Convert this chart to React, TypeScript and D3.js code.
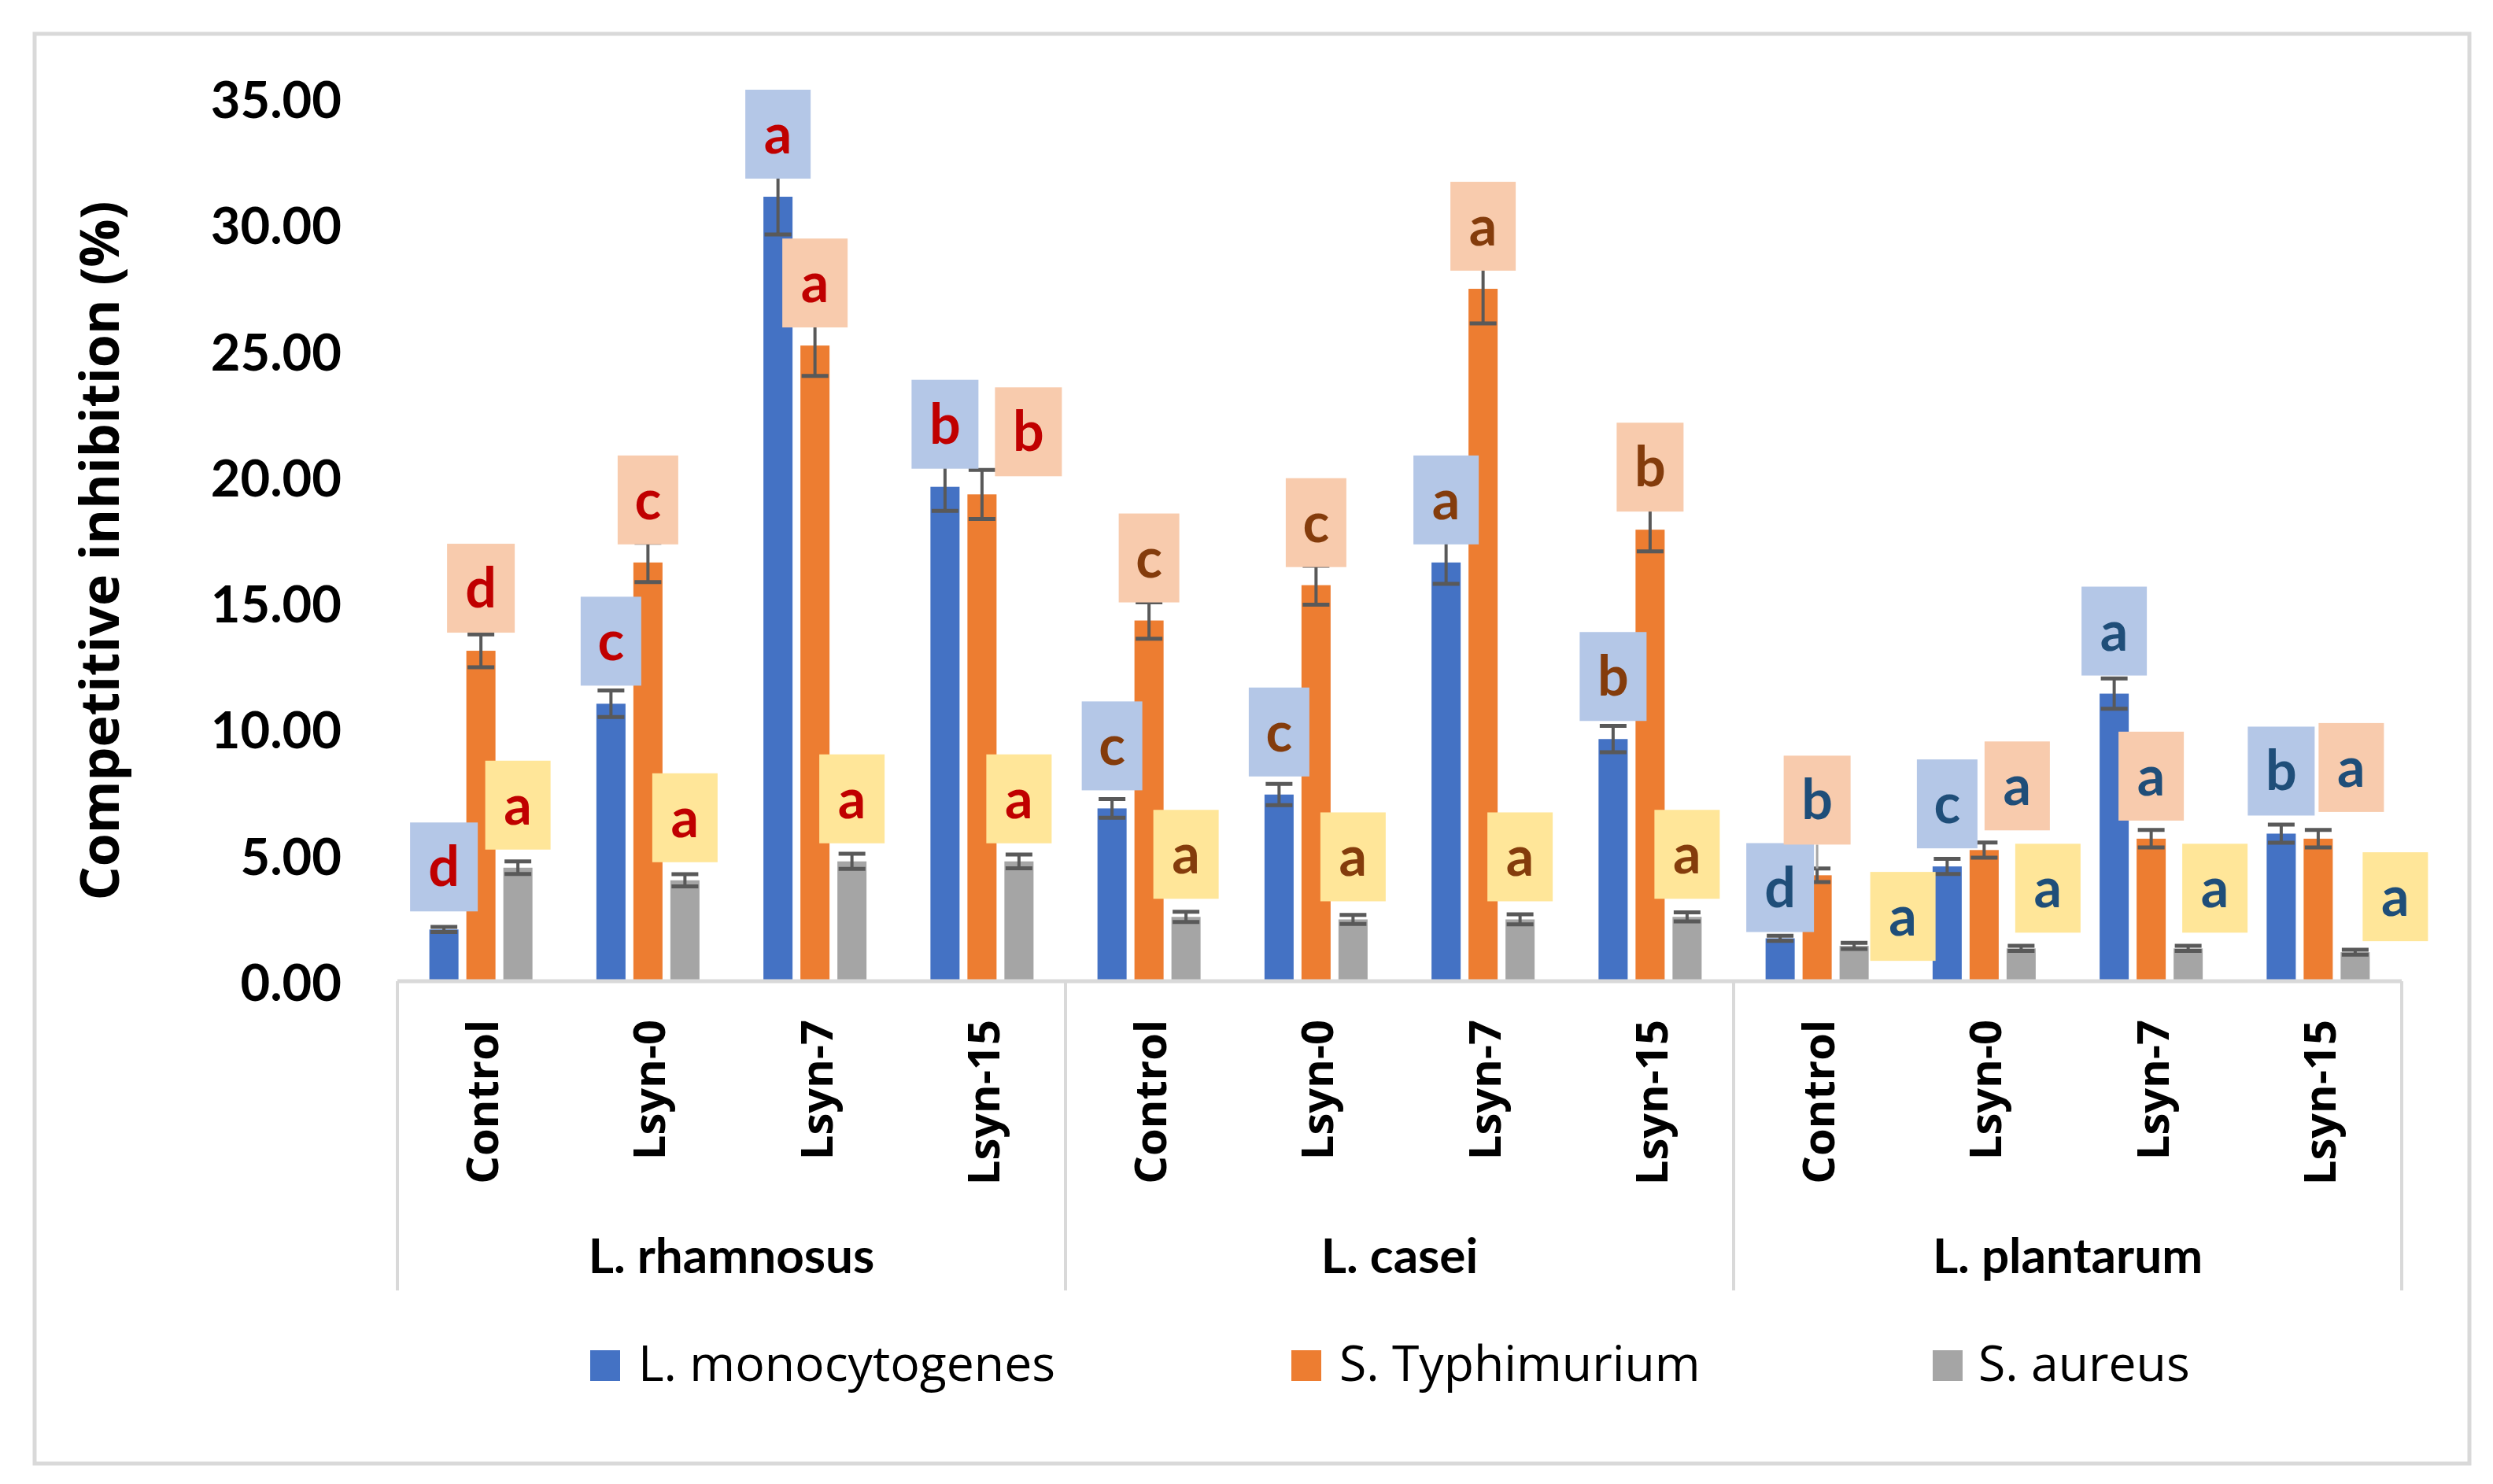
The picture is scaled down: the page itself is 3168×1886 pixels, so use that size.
import React from "react";
import * as d3 from "d3";

const groups = ["L. rhamnosus", "L. casei", "L. plantarum"];
const treatments = ["Control", "Lsyn-0", "Lsyn-7", "Lsyn-15"];
const seriesNames = ["L. monocytogenes", "S. Typhimurium", "S. aureus"];
const yTicks = [0, 5, 10, 15, 20, 25, 30, 35];

// values in order: rhamnosus x4, casei x4, plantarum x4
const monocytogenes = [2.05, 11.0, 31.1, 19.6, 6.85, 7.4, 16.6, 9.6, 1.7, 4.55, 11.4, 5.85];
const monocytogenesErr = [0.1, 0.53, 1.5, 0.95, 0.37, 0.42, 0.85, 0.52, 0.1, 0.3, 0.6, 0.36];
const typhimurium = [13.1, 16.6, 25.2, 19.3, 14.3, 15.7, 27.45, 17.9, 4.2, 5.2, 5.65, 5.65];
const typhimuriumErr = [0.65, 0.78, 1.2, 0.97, 0.72, 0.77, 1.37, 0.86, 0.27, 0.3, 0.35, 0.35];
const aureus = [4.5, 4.0, 4.75, 4.75, 2.55, 2.45, 2.45, 2.55, 1.4, 1.3, 1.3, 1.15];
const aureusErr = [0.25, 0.24, 0.3, 0.27, 0.2, 0.18, 0.2, 0.18, 0.12, 0.1, 0.1, 0.1];

const monocytogenesLetters = ["d", "c", "a", "b", "c", "c", "a", "b", "d", "c", "a", "b"];
const typhimuriumLetters = ["d", "c", "a", "b", "c", "c", "a", "b", "b", "a", "a", "a"];
const aureusLetters = ["a", "a", "a", "a", "a", "a", "a", "a", "a", "a", "a", "a"];

const barColors = ["#4472c4", "#ed7d31", "#a5a5a5"];
const boxColors = ["#b4c7e7", "#f8cbad", "#ffe699"];
const letterColors = ["#c00000", "#843c0c", "#1f4e79"];

// labels that were dragged by hand in the original (category index - series index)
const labelNudge: Record<string, [number, number]> = {
  "3-1": [59, 0],
  "8-0": [0, 15],
  "8-1": [0, -16],
  "8-2": [62, 42],
  "9-1": [42, -2],
  "9-2": [34, 3],
  "10-2": [34, 3],
  "11-1": [42, -11],
  "11-2": [51, 9],
};
// the one label that shows an Excel leader line
const leaderLines = ["8-1"];

const boxWidth: Record<string, number> = { a: 83, b: 85, c: 77, d: 86 };

const W = 3168;
const H = 1886;
const plot = { left: 505, right: 3052, top: 125, bottom: 1247 };

const catFont = "'Open Sans', 'Noto Sans', sans-serif";
const numFont = "Lato, 'Noto Sans', sans-serif";

export default function App() {
  const values = [monocytogenes, typhimurium, aureus];
  const errs = [monocytogenesErr, typhimuriumErr, aureusErr];
  const letters = [monocytogenesLetters, typhimuriumLetters, aureusLetters];

  const cats = groups.flatMap((g) => treatments.map((t) => `${g}|${t}`));

  const x0 = d3.scaleBand<string>().domain(cats).range([plot.left, plot.right]);
  const x1 = d3
    .scaleBand<number>()
    .domain([0, 1, 2])
    .range([-65.5, 65.5])
    .paddingInner(10 / 47);
  const y = d3.scaleLinear().domain([0, 35]).range([plot.bottom, plot.top]);

  const groupW = x0.step() * treatments.length;
  const fmt = d3.format(".2f");
  const barCenter = (i: number, s: number) =>
    x0(cats[i])! + x0.bandwidth() / 2 + x1(s)! + x1.bandwidth() / 2;

  const legendItems = [
    { x: 750, textX: 811 },
    { x: 1641, textX: 1702 },
    { x: 2456, textX: 2514 },
  ];

  return (
    <svg
      width={W}
      height={H}
      style={{ position: "absolute", left: 0, top: 0, background: "#fff" }}
    >
      <rect x={0} y={0} width={W} height={H} fill="#fff" />
      <rect
        x={44}
        y={43}
        width={3094}
        height={1817}
        fill="none"
        stroke="#d9d9d9"
        strokeWidth={5}
      />

      {/* y ticks */}
      {yTicks.map((t) => (
        <text
          key={t}
          x={434}
          y={y(t)}
          textAnchor="end"
          dominantBaseline="central"
          fontFamily={numFont}
          fontWeight={700}
          fontSize={65}
          fill="#000"
        >
          {fmt(t)}
        </text>
      ))}

      <text
        transform={`translate(151,700) rotate(-90)`}
        textAnchor="middle"
        fontFamily={catFont}
        fontWeight={700}
        fontSize={68}
        fill="#000"
      >
        Competitive inhibition (%)
      </text>

      {/* bars */}
      {values.map((vals, s) =>
        vals.map((v, i) => (
          <rect
            key={`bar-${s}-${i}`}
            x={x0(cats[i])! + x0.bandwidth() / 2 + x1(s)!}
            y={y(v)}
            width={x1.bandwidth()}
            height={y(0) - y(v)}
            fill={barColors[s]}
          />
        ))
      )}

      {/* error bars */}
      {values.map((vals, s) =>
        vals.map((v, i) => {
          const cx = barCenter(i, s);
          const e = errs[s][i];
          return (
            <g key={`err-${s}-${i}`} stroke="#595959">
              <line x1={cx} x2={cx} y1={y(v + e)} y2={y(v - e)} strokeWidth={4} />
              <line x1={cx - 17} x2={cx + 17} y1={y(v + e)} y2={y(v + e)} strokeWidth={5} />
              <line x1={cx - 17} x2={cx + 17} y1={y(v - e)} y2={y(v - e)} strokeWidth={5} />
            </g>
          );
        })
      )}

      {/* letter labels */}
      {values.map((vals, s) =>
        vals.map((v, i) => {
          const cx = barCenter(i, s);
          const key = `${i}-${s}`;
          const [dx, dy] = labelNudge[key] || [0, 0];
          const L = letters[s][i];
          const bw = boxWidth[L];
          const bottom = y(v) - 23 + dy;
          const g = Math.floor(i / treatments.length);
          return (
            <g key={`lab-${s}-${i}`}>
              {leaderLines.includes(key) && (
                <line
                  x1={cx}
                  x2={cx}
                  y1={bottom}
                  y2={y(v + errs[s][i])}
                  stroke="#a6a6a6"
                  strokeWidth={3}
                />
              )}
              <rect
                x={cx + dx - bw / 2}
                y={bottom - 113}
                width={bw}
                height={113}
                fill={boxColors[s]}
              />
              <text
                x={cx + dx}
                y={bottom - 32}
                textAnchor="middle"
                fontFamily={numFont}
                fontWeight={700}
                fontSize={70}
                fill={letterColors[g]}
              >
                {L}
              </text>
            </g>
          );
        })
      )}

      {/* category axis */}
      <line
        x1={plot.left}
        x2={plot.right}
        y1={plot.bottom}
        y2={plot.bottom}
        stroke="#d9d9d9"
        strokeWidth={5}
      />
      {d3.range(groups.length + 1).map((k) => (
        <line
          key={`sep-${k}`}
          x1={plot.left + k * groupW}
          x2={plot.left + k * groupW}
          y1={plot.bottom}
          y2={1640}
          stroke="#d9d9d9"
          strokeWidth={4}
        />
      ))}
      {cats.map((c, i) => (
        <text
          key={`cat-${i}`}
          transform={`translate(${x0(c)! + x0.bandwidth() / 2},1296) rotate(-90)`}
          textAnchor="end"
          dominantBaseline="central"
          fontFamily={catFont}
          fontWeight={700}
          fontSize={56}
          fill="#000"
        >
          {treatments[i % treatments.length]}
        </text>
      ))}
      {groups.map((g, k) => (
        <text
          key={g}
          x={plot.left + (k + 0.5) * groupW}
          y={1618}
          textAnchor="middle"
          fontFamily={numFont}
          fontWeight={700}
          fontSize={62}
          fill="#000"
        >
          {g}
        </text>
      ))}

      {/* legend */}
      {seriesNames.map((n, s) => (
        <g key={n}>
          <rect x={legendItems[s].x} y={1716} width={38} height={39} fill={barColors[s]} />
          <text
            x={legendItems[s].textX}
            y={1755}
            fontFamily={catFont}
            fontSize={62.5}
            fill="#000"
          >
            {n}
          </text>
        </g>
      ))}
    </svg>
  );
}
